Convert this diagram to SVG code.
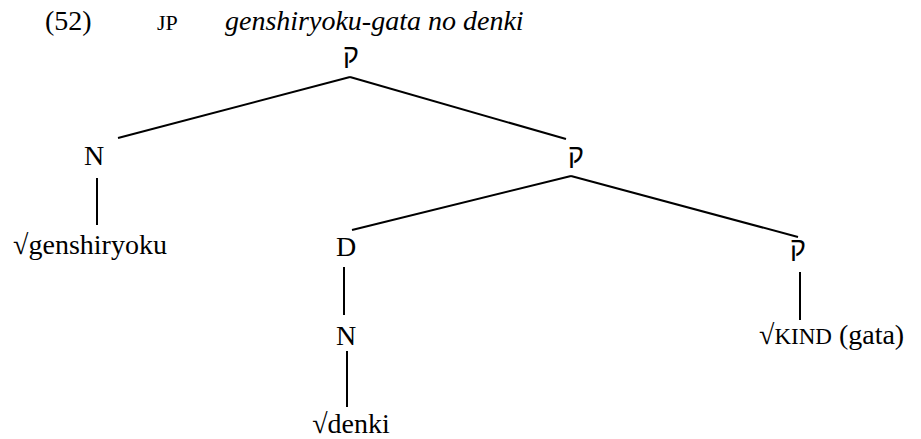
<svg xmlns="http://www.w3.org/2000/svg" width="921" height="439" viewBox="0 0 921 439">
<style>
text{font-family:"Liberation Serif","Times New Roman",serif;font-size:28px;fill:#000}
.lbl{text-anchor:middle}
.q{font-family:"Liberation Sans","DejaVu Sans",sans-serif;font-size:27px}
.sc{font-size:23px}
.jp{font-size:22px}
.it{font-style:italic}
.edge{stroke:#000;stroke-width:2;fill:none}
</style>
<rect width="921" height="439" fill="#fff"/>
<g id="header">
<text x="45" y="30">(52)</text>
<text x="157" y="30" class="jp">JP</text>
<text x="225" y="30" class="it">genshiryoku-gata no denki</text>
</g>
<g id="edges">
<line class="edge" x1="350" y1="77" x2="118" y2="138"/>
<line class="edge" x1="350" y1="77" x2="566" y2="139"/>
<line class="edge" x1="97" y1="178" x2="97" y2="225"/>
<line class="edge" x1="571" y1="176" x2="352" y2="230"/>
<line class="edge" x1="571" y1="176" x2="798" y2="237"/>
<line class="edge" x1="344" y1="267" x2="344" y2="315"/>
<line class="edge" x1="347" y1="351" x2="347" y2="407"/>
<line class="edge" x1="800" y1="272" x2="800" y2="320"/>
</g>
<g id="n-root"><text x="351" y="63" class="lbl q">ק</text></g>
<g id="n-N1"><text x="94" y="165" class="lbl">N</text></g>
<g id="n-gen"><text x="90" y="254" class="lbl">√genshiryoku</text></g>
<g id="n-q2"><text x="576" y="163" class="lbl q">ק</text></g>
<g id="n-D"><text x="346" y="256" class="lbl">D</text></g>
<g id="n-q3"><text x="798" y="256" class="lbl q">ק</text></g>
<g id="n-N2"><text x="346" y="345" class="lbl">N</text></g>
<g id="n-kind"><text x="759" y="344">√<tspan class="sc">KIND</tspan> (gata)</text></g>
<g id="n-denki"><text x="351" y="433" class="lbl">√denki</text></g>
</svg>
